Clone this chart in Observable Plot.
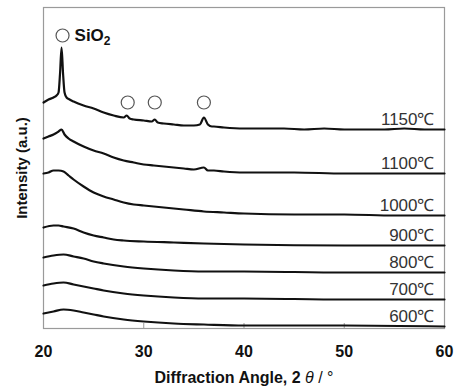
<!DOCTYPE html>
<html>
<head>
<meta charset="utf-8">
<script src="https://cdn.jsdelivr.net/npm/d3@7"></script>
<script src="https://cdn.jsdelivr.net/npm/@observablehq/plot@0.6"></script>
<style>
  html, body { margin: 0; padding: 0; background: #fff; }
</style>
</head>
<body>
<div id="chart"></div>
<script>
// Temperatures (series labels)
const temps = ["1150", "1100", "1000", "900", "800", "700", "600"];

// Each series: [2θ, intensity (a.u., offset-stacked)]
const s1150 = [[20,226],[20.5,229],[21,231],[21.3,233],[21.5,236],[21.65,255],[21.8,281],[21.95,255],[22.1,236],[22.3,231],[22.6,229],[23,227],[24,223],[25,220],[26,216],[27,213],[28,211],[28.3,213],[28.6,210],[29,209],[30,208],[30.8,207],[31.1,209],[31.4,206],[32,205],[33,204],[34,203],[35,203],[35.6,204],[36.0,211],[36.4,204],[36.8,202],[37,202],[38,201],[40,200],[42,200],[44,200],[46,199],[48,200],[50,199],[52,199],[54,199],[56,200],[58,199],[60,199]];
const s1100 = [[20,190],[20.5,192],[21,194],[21.5,197],[21.8,199],[22.1,194],[22.5,190],[23,187],[24,182],[25,178],[26,175],[27,171],[28,168],[29,166],[30,164],[31,163],[32,162],[33,161],[34,160],[35,159],[36,161],[36.4,158],[37,158],[38,157],[40,156],[45,156],[50,155],[55,155],[60,155]];
const s1000 = [[20,155],[20.5,156],[21,158],[21.5,158],[22,157],[22.5,153],[23,149],[24,142],[25,136],[26,132],[27,129],[28,126],[29,124],[30,123],[32,121],[34,119],[36,117],[38,116],[40,115],[45,114],[50,114],[55,113],[60,113]];
const s900  = [[20,101],[21,103],[21.5,103],[22,102],[23,100],[24,96],[25,93],[26,91],[27,89],[28,88],[30,87],[33,86],[36,85],[40,84],[50,83],[60,83]];
const s800  = [[20,71],[21,73],[22,74],[23,72],[24,70],[25,67],[26,65],[28,62],[30,60],[33,58],[36,57],[40,57],[50,56],[60,56]];
const s700  = [[20,43],[21,45],[22,46],[23,44],[24,42],[25,40],[26,38],[28,35],[30,33],[33,31],[36,30],[40,30],[50,29],[60,29]];
const s600  = [[20,15],[21,17],[22,19],[23,18],[24,16],[25,14],[26,12],[28,9],[30,7],[33,5],[36,4],[40,3],[50,3],[60,2]];

// SiO2 reflection markers (2θ) and their marker height
const sio2Peaks = [28.4, 31.1, 36.0];
const sio2MarkerLevel = 226;
const legendText = "SiO2";
const legendAngle = 21.9;
const legendLevel = 293;

const xTicks = [20, 30, 40, 50, 60];
const xInnerTicks = [30, 40, 50];
const xLabel = "Diffraction Angle, 2 \u03B8 / \u00B0";
const yLabel = "Intensity (a.u.)";

const seriesList = [s1150, s1100, s1000, s900, s800, s700, s600];
const table = [];
seriesList.forEach((s, i) => {
  s.forEach(([a, v]) => table.push({temp: temps[i], label: temps[i] + "\u2103", angle: a, value: v}));
});

const fontFamily = "'Liberation Sans', Arial, Helvetica, sans-serif";

const chart = Plot.plot({
  width: 460,
  height: 392,
  marginLeft: 43,
  marginRight: 16,
  marginTop: 7,
  marginBottom: 64,
  style: {fontFamily, background: "#fff", overflow: "visible"},
  x: {domain: [20, 60]},
  y: {domain: [0, 321], axis: null},
  marks: [
    Plot.frame({stroke: "#9a9a9a", strokeWidth: 1.2}),
    Plot.ruleX(xInnerTicks, {x: d => d, y1: 0, y2: 5, stroke: "#9a9a9a"}),
    Plot.axisX(xTicks, {tickSize: 0, tickPadding: 17, fontSize: 16, fontWeight: "bold", fill: "#111", label: null}),
    Plot.text([xLabel], {text: d => d, frameAnchor: "bottom", dy: 54, fontSize: 16, fontWeight: "bold", fill: "#111"}),
    Plot.text([yLabel], {text: d => d, frameAnchor: "left", textAnchor: "middle", rotate: -90, dx: -21, fontSize: 15, fontWeight: "bold", fill: "#111"}),
    Plot.line(table, {x: "angle", y: "value", z: "temp", stroke: "#111", strokeWidth: 2.2, curve: "monotone-x"}),
    Plot.text(table, Plot.selectLast({x: "angle", y: "value", z: "temp", text: "label", textAnchor: "end", lineAnchor: "bottom", dx: -10, dy: -5, fontSize: 17, fill: "#333"})),
    Plot.dot(sio2Peaks, {x: d => d, y: () => sio2MarkerLevel, r: 6.5, stroke: "#555", strokeWidth: 1.2, fill: "#fff"}),
    Plot.dot([legendAngle], {x: d => d, y: () => legendLevel, r: 6.5, stroke: "#555", strokeWidth: 1.2, fill: "#fff"}),
    Plot.text([legendText], {x: () => legendAngle, y: () => legendLevel, text: d => d, textAnchor: "start", dx: 12, fontSize: 17, fontWeight: "bold", fill: "#111"})
  ]
});

// Typographic refinements: subscript in SiO2, italic theta
d3.select(chart).selectAll("text").each(function() {
  const t = d3.select(this);
  const s = this.textContent;
  if (s === "SiO2") {
    t.text(null);
    t.append("tspan").text("SiO");
    t.append("tspan").attr("dy", "0.3em").attr("font-size", 12).text("2");
  } else if (s.includes("\u03B8")) {
    const parts = s.split("\u03B8");
    t.text(null);
    t.append("tspan").text(parts[0]);
    t.append("tspan").attr("font-style", "italic").attr("font-weight", "normal").text("\u03B8");
    t.append("tspan").attr("font-weight", "normal").text(parts[1]);
  }
});

document.getElementById("chart").appendChild(chart);
</script>
</body>
</html>
